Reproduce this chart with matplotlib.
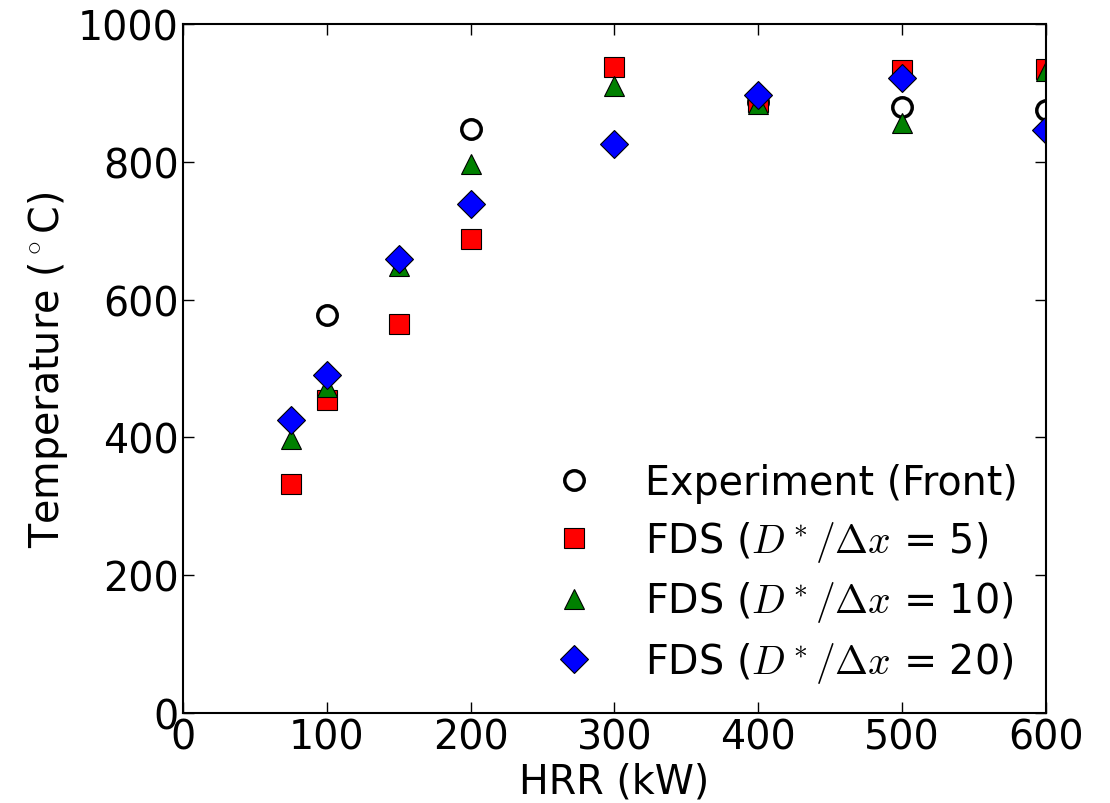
import numpy as np
import matplotlib
matplotlib.use('Agg')
import matplotlib.pyplot as plt

# HRR (kW) and temperatures (C)
hrr_exp = [100, 200, 400, 500, 600]
temp_exp = [578, 847, 886, 880, 875]

hrr_fds = [75, 100, 150, 200, 300, 400, 500, 600]
temp_fds5 = [332, 454, 565, 688, 938, 887, 933, 935]
temp_fds10 = [398, 473, 649, 797, 910, 884, 856, 932]
temp_fds20 = [425, 491, 659, 739, 826, 897, 921, 846]

plt.rcParams['font.family'] = 'DejaVu Sans'
plt.rcParams['mathtext.fontset'] = 'cm'

fig = plt.figure(figsize=(11.1, 8.04), dpi=100)
ax = fig.add_axes([0.165, 0.112, 0.777, 0.857])

ax.plot(hrr_exp, temp_exp, 'o', mfc='none', mec='k', mew=2.5, ms=14,
        label='Experiment (Front)')
ax.plot(hrr_fds, temp_fds5, 's', mfc='#ff0000', mec='k', mew=0.8, ms=14,
        label=r'FDS ($D^*/\Delta x$ = 5)')
ax.plot(hrr_fds, temp_fds10, '^', mfc='#008000', mec='k', mew=0.8, ms=14,
        label=r'FDS ($D^*/\Delta x$ = 10)')
ax.plot(hrr_fds, temp_fds20, 'D', mfc='#0000ff', mec='k', mew=0.8, ms=14,
        label=r'FDS ($D^*/\Delta x$ = 20)')

ax.set_xlim(0, 600)
ax.set_ylim(0, 1000)
ax.set_xticks(np.arange(0, 601, 100))
ax.set_yticks(np.arange(0, 1001, 200))
ax.tick_params(direction='in', top=True, right=True, length=8, width=1,
               labelsize=28.5, pad=3)
for s in ax.spines.values():
    s.set_linewidth(1.5)

ax.set_xlabel('HRR (kW)', fontsize=28.5, labelpad=3)
ax.set_ylabel(r'Temperature ($^\circ$C)', fontsize=28.5, labelpad=6)

ax.legend(loc='lower right', frameon=False, numpoints=1, fontsize=28.5,
          handletextpad=0.8, borderaxespad=0.3, labelspacing=0.4)

fig.savefig('out.png', dpi=100)
